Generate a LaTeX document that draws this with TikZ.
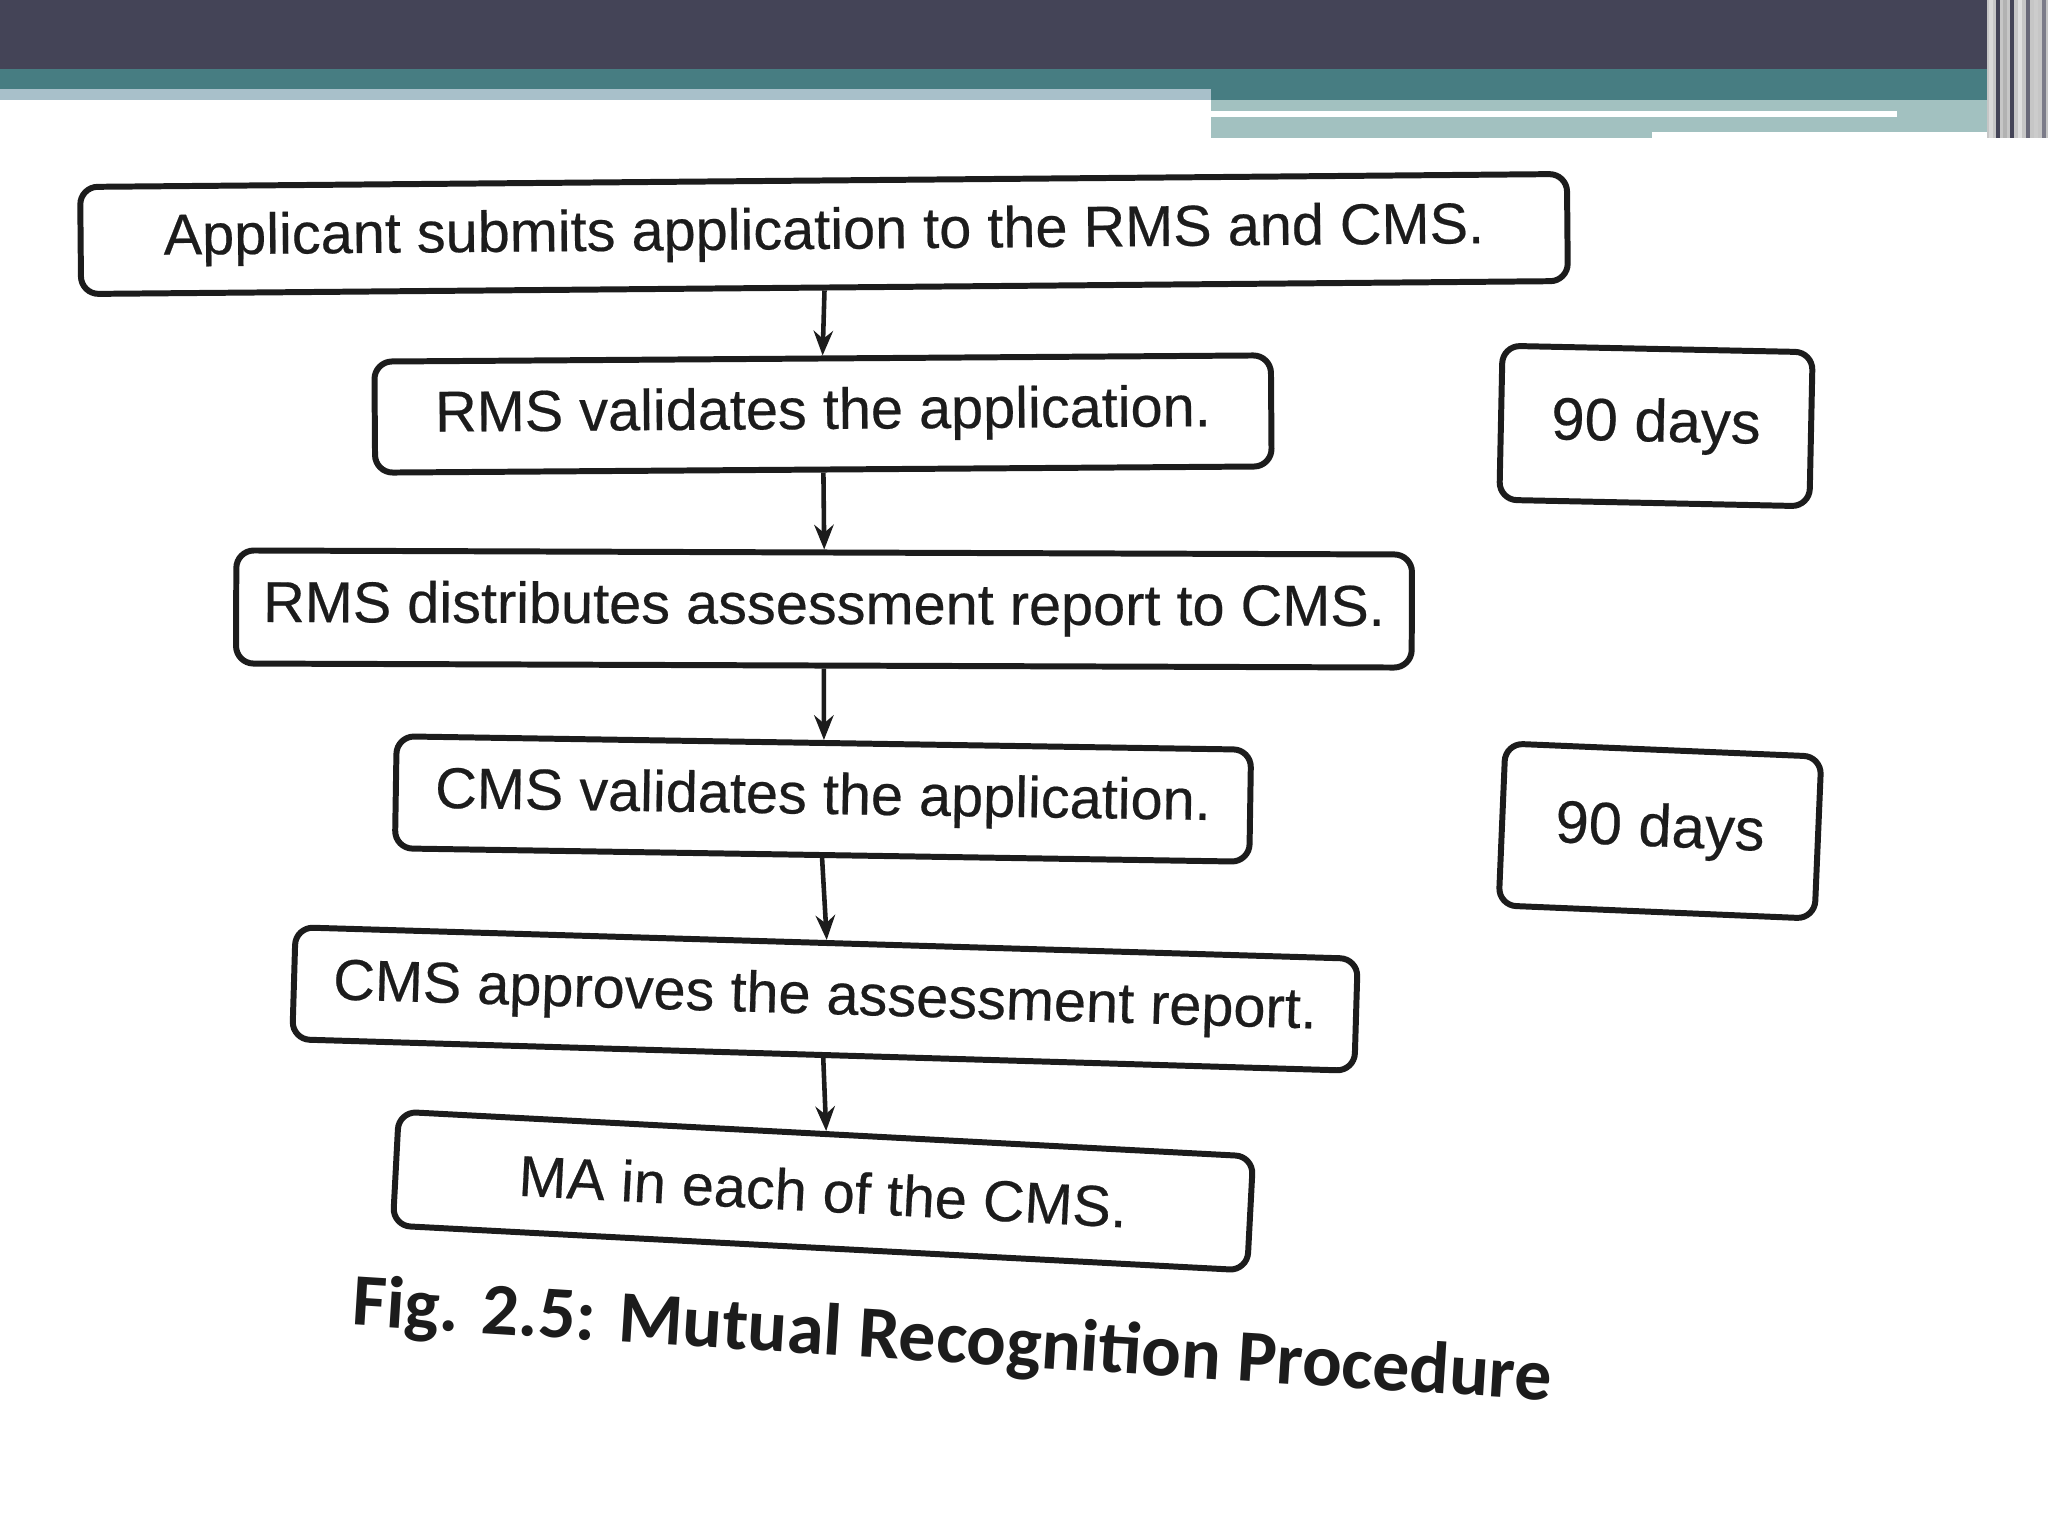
\documentclass[tikz,border=0pt]{standalone}
\usepackage{fontspec}
\setmainfont{Liberation Sans}[FakeBold=0.4]
\newfontfamily\boxfont{Liberation Sans}[FakeBold=0.35,AutoFakeBold=0.35]
\newfontfamily\capfont{Carlito}
\usetikzlibrary{arrows.meta}
\definecolor{hdark}{HTML}{444457}
\definecolor{hteal}{HTML}{477D82}
\definecolor{hlblue}{HTML}{A8C0CA}
\definecolor{hlteal}{HTML}{A2C1C0}
\definecolor{ink}{HTML}{1C1C1C}
\begin{document}
\begin{tikzpicture}[x=0.01cm,y=-0.01cm,
  box/.style={draw=ink, line width=1.7pt, rounded corners=5pt, inner sep=0pt, align=center, text=ink, font=\boxfont\fontsize{16.4}{19}\selectfont},
  days/.style={box, font=\boxfont\fontsize{17}{20}\selectfont},
  arr/.style={-{Stealth[length=7pt,width=5.5pt]}, line width=1.3pt, draw=ink},
]
\useasboundingbox (0,0) rectangle (2048,1536);
\fill[white] (0,0) rectangle (2048,1536);
% header bars
\fill[hdark] (0,0) rectangle (2048,69);
\fill[hteal] (0,69) rectangle (2048,89);
\fill[hlblue] (0,89) rectangle (1211,100);
\fill[hteal] (1211,89) rectangle (2048,100);
\fill[hlteal] (1211,100) rectangle (2048,138);
\fill[white] (1211,111) rectangle (1897,117);
\fill[white] (1652,132) rectangle (2009,138);
% right edge stripes
\fill[gray!45] (1987,0) rectangle (2048,138);
\foreach \xx/\cc in {1989/gray!30,1996/hdark,2003/gray!60,2010/hdark,2018/gray!25,2026/hdark!80,2034/gray!40,2042/hdark!70}
  \fill[\cc] (\xx,0) rectangle (\xx+4,138);
% flow boxes
\node[box, minimum width=14.86cm, minimum height=1.07cm, rotate=0.5] (b1) at (824,234) {Applicant submits application to the RMS and CMS.};
\node[box, minimum width=8.96cm, minimum height=1.11cm, rotate=0.4] (b2) at (823,414) {RMS validates the application.};
\node[box, minimum width=11.75cm, minimum height=1.13cm, rotate=-0.2] (b3) at (824,609) {RMS distributes assessment report to CMS.};
\node[box, minimum width=8.54cm, minimum height=1.12cm, rotate=-0.9] (b4) at (823,799) {CMS validates the application.};
\node[box, minimum width=10.62cm, minimum height=1.12cm, rotate=-1.7] (b5) at (825,999) {CMS approves the assessment report.};
\node[box, minimum width=8.55cm, minimum height=1.14cm, rotate=-3.0] (b6) at (823,1191) {MA in each of the CMS.};
% duration boxes
\node[days, minimum width=3.10cm, minimum height=1.54cm, rotate=-1.2] (d1) at (1656,426) {90 days};
\node[days, minimum width=3.16cm, minimum height=1.62cm, rotate=-2.4] (d2) at (1660,831) {90 days};
% connectors
\draw[arr] (b1.south) -- (b2.north);
\draw[arr] (b2.south) -- (b3.north);
\draw[arr] (b3.south) -- (b4.north);
\draw[arr] (b4.south) -- (b5.north);
\draw[arr] (b5.south) -- (b6.north);
% caption
\node[rotate=-3.6, text=ink, font=\capfont\bfseries\fontsize{21}{25}\selectfont] (cap) at (952,1343) {Fig. 2.5: Mutual Recognition Procedure};
\end{tikzpicture}
\end{document}
